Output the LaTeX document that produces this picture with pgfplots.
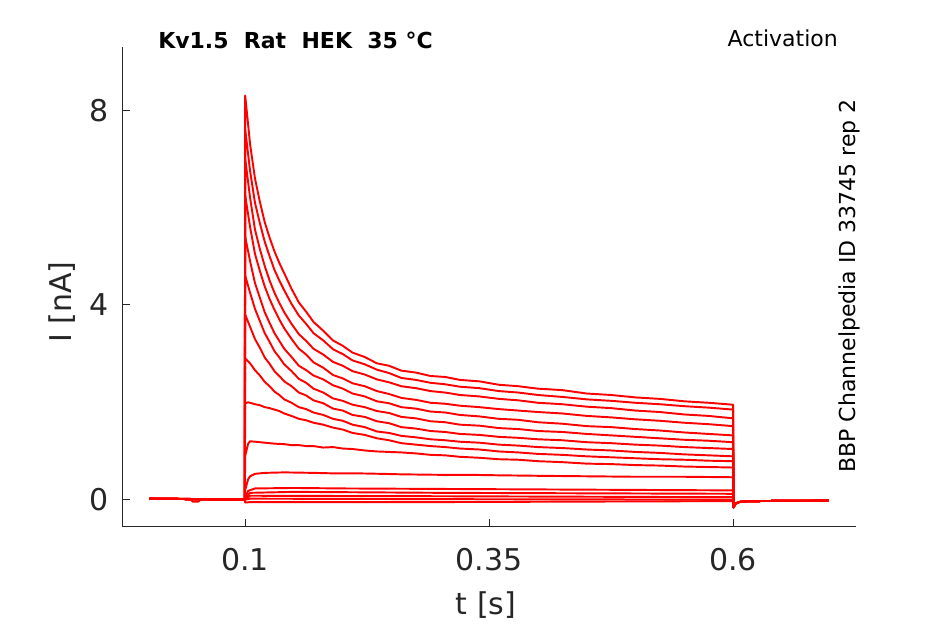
\documentclass[border=0pt]{standalone}
\usepackage{fontspec}
\setmainfont{DejaVu Sans}
\usepackage{pgfplots}
\pgfplotsset{compat=1.18}
\definecolor{mgray}{RGB}{38,38,38}
\pgfplotsset{trace/.style={red, solid, line width=1.45pt, mark=none, line join=round}}
\begin{document}
\begin{tikzpicture}
\path[use as bounding box] (0,0) rectangle (708.75pt,468pt);
\begin{axis}[
  at={(91.7pt,73.0pt)}, anchor=south west,
  scale only axis, width=550.3pt, height=359.8pt,
  xmin=-0.026, xmax=0.726, ymin=-0.555, ymax=9.30,
  axis x line*=bottom, axis y line*=left,
  axis line style={mgray, line width=0.75pt, -},
  tick align=inside, major tick length=5.5pt,
  tick style={mgray, line width=0.75pt},
  xtick={0.1,0.35,0.6}, xticklabels={0.1,0.35,0.6},
  ytick={0,4,8}, yticklabels={0,4,8},
  ticklabel style={font=\fontsize{22.5}{26}\selectfont, text=mgray},
  xticklabel style={yshift=-12.5pt},
  yticklabel style={xshift=-7pt},
  /pgf/number format/assume math mode=true,
  clip=true,
]
% T1
\addplot[trace] coordinates {(0.002,0.02)(0.044,0.02)(0.046,-0.04)(0.052,-0.04)(0.054,0.0)(0.0995,0.0)
(0.1,8.30)(0.105,7.30)(0.11,6.60)(0.115,6.12)(0.12,5.70)(0.125,5.38)(0.13,5.10)(0.135,4.86)(0.14,4.65)(0.1475,4.33)(0.155,4.05)(0.1625,3.86)(0.17,3.65)(0.18,3.47)(0.19,3.27)(0.2,3.16)(0.21,3.02)(0.2225,2.93)(0.235,2.80)(0.2475,2.75)(0.26,2.65)(0.275,2.61)(0.29,2.54)(0.305,2.52)(0.32,2.46)(0.34,2.43)(0.36,2.36)(0.38,2.33)(0.40,2.28)(0.425,2.25)(0.45,2.18)(0.475,2.15)(0.50,2.10)(0.525,2.07)(0.55,2.02)(0.575,1.99)(0.60,1.95)
(0.6005,-0.16)(0.602,-0.09)(0.606,-0.05)(0.615,-0.03)(0.698,-0.02)};
% T2
\addplot[trace] coordinates {(0.002,0.02)(0.0995,0.0)
(0.1,7.60)(0.105,6.75)(0.11,6.10)(0.115,5.68)(0.12,5.30)(0.125,5.00)(0.13,4.72)(0.135,4.50)(0.14,4.30)(0.1475,4.02)(0.155,3.78)(0.1625,3.61)(0.17,3.42)(0.18,3.27)(0.19,3.09)(0.2,2.99)(0.21,2.86)(0.2225,2.78)(0.235,2.67)(0.2475,2.60)(0.26,2.50)(0.275,2.46)(0.29,2.40)(0.305,2.37)(0.32,2.32)(0.34,2.29)(0.36,2.23)(0.38,2.20)(0.40,2.15)(0.425,2.11)(0.45,2.06)(0.475,2.03)(0.50,1.99)(0.525,1.96)(0.55,1.92)(0.575,1.89)(0.60,1.85)
(0.6005,-0.16)(0.602,-0.09)(0.606,-0.05)(0.615,-0.03)(0.698,-0.02)};
% T3
\addplot[trace] coordinates {(0.002,0.02)(0.0995,0.0)
(0.1,7.00)(0.105,6.20)(0.11,5.55)(0.115,5.15)(0.12,4.80)(0.125,4.50)(0.13,4.25)(0.135,4.04)(0.14,3.85)(0.1475,3.61)(0.155,3.40)(0.1625,3.26)(0.17,3.10)(0.18,2.98)(0.19,2.83)(0.2,2.75)(0.21,2.64)(0.2225,2.57)(0.235,2.47)(0.2475,2.41)(0.26,2.33)(0.275,2.29)(0.29,2.23)(0.305,2.20)(0.32,2.15)(0.34,2.12)(0.36,2.07)(0.38,2.04)(0.40,1.99)(0.425,1.96)(0.45,1.91)(0.475,1.88)(0.50,1.83)(0.525,1.80)(0.55,1.75)(0.575,1.72)(0.60,1.67)
(0.6005,-0.16)(0.602,-0.09)(0.606,-0.05)(0.615,-0.03)(0.698,-0.02)};
% T4
\addplot[trace] coordinates {(0.002,0.02)(0.0995,0.0)
(0.1,6.25)(0.105,5.60)(0.11,5.05)(0.115,4.70)(0.12,4.38)(0.125,4.12)(0.13,3.90)(0.135,3.70)(0.14,3.52)(0.1475,3.30)(0.155,3.10)(0.1625,2.98)(0.17,2.82)(0.18,2.71)(0.19,2.56)(0.2,2.49)(0.21,2.39)(0.2225,2.33)(0.235,2.23)(0.2475,2.17)(0.26,2.09)(0.275,2.05)(0.29,1.99)(0.305,1.97)(0.32,1.93)(0.34,1.90)(0.36,1.86)(0.38,1.83)(0.40,1.80)(0.425,1.77)(0.45,1.72)(0.475,1.69)(0.50,1.65)(0.525,1.62)(0.55,1.58)(0.575,1.55)(0.60,1.51)
(0.6005,-0.16)(0.602,-0.09)(0.606,-0.05)(0.615,-0.03)(0.698,-0.02)};
% T5
\addplot[trace] coordinates {(0.002,0.02)(0.0995,0.0)
(0.1,5.40)(0.105,4.90)(0.11,4.45)(0.115,4.15)(0.12,3.85)(0.125,3.63)(0.13,3.42)(0.135,3.26)(0.14,3.10)(0.1475,2.93)(0.155,2.75)(0.1625,2.66)(0.17,2.55)(0.18,2.47)(0.19,2.35)(0.2,2.28)(0.21,2.18)(0.2225,2.12)(0.235,2.02)(0.2475,1.98)(0.26,1.90)(0.275,1.87)(0.29,1.81)(0.305,1.79)(0.32,1.74)(0.34,1.71)(0.36,1.66)(0.38,1.64)(0.40,1.59)(0.425,1.56)(0.45,1.51)(0.475,1.49)(0.50,1.45)(0.525,1.42)(0.55,1.38)(0.575,1.35)(0.60,1.32)
(0.6005,-0.16)(0.602,-0.09)(0.606,-0.05)(0.615,-0.03)(0.698,-0.02)};
% T6
\addplot[trace] coordinates {(0.002,0.02)(0.0995,0.0)
(0.1,4.60)(0.105,4.25)(0.11,3.92)(0.115,3.67)(0.12,3.42)(0.125,3.24)(0.13,3.05)(0.135,2.92)(0.14,2.78)(0.1475,2.64)(0.155,2.48)(0.1625,2.40)(0.17,2.28)(0.18,2.20)(0.19,2.08)(0.2,2.03)(0.21,1.95)(0.2225,1.90)(0.235,1.82)(0.2475,1.78)(0.26,1.70)(0.275,1.67)(0.29,1.61)(0.305,1.59)(0.32,1.54)(0.34,1.52)(0.36,1.47)(0.38,1.45)(0.40,1.41)(0.425,1.39)(0.45,1.35)(0.475,1.32)(0.50,1.29)(0.525,1.26)(0.55,1.23)(0.575,1.21)(0.60,1.18)
(0.6005,-0.16)(0.602,-0.09)(0.606,-0.05)(0.615,-0.03)(0.698,-0.02)};
% T7
\addplot[trace] coordinates {(0.002,0.02)(0.0995,0.0)
(0.1,3.80)(0.105,3.55)(0.11,3.30)(0.115,3.12)(0.12,2.92)(0.125,2.79)(0.13,2.64)(0.135,2.54)(0.14,2.43)(0.1475,2.33)(0.155,2.20)(0.1625,2.14)(0.17,2.04)(0.18,1.98)(0.19,1.87)(0.2,1.83)(0.21,1.74)(0.2225,1.70)(0.235,1.61)(0.2475,1.57)(0.26,1.49)(0.275,1.46)(0.29,1.41)(0.305,1.39)(0.32,1.35)(0.34,1.33)(0.36,1.29)(0.38,1.27)(0.40,1.24)(0.425,1.22)(0.45,1.18)(0.475,1.16)(0.50,1.13)(0.525,1.11)(0.55,1.08)(0.575,1.06)(0.60,1.04)
(0.6005,-0.16)(0.602,-0.09)(0.606,-0.05)(0.615,-0.03)(0.698,-0.02)};
% T8
\addplot[trace] coordinates {(0.002,0.02)(0.0995,0.0)
(0.1,2.90)(0.105,2.80)(0.11,2.66)(0.115,2.55)(0.12,2.42)(0.125,2.33)(0.13,2.22)(0.135,2.15)(0.14,2.06)(0.1475,1.99)(0.155,1.90)(0.1625,1.86)(0.17,1.79)(0.18,1.74)(0.19,1.66)(0.2,1.62)(0.21,1.54)(0.2225,1.49)(0.235,1.40)(0.2475,1.37)(0.26,1.31)(0.275,1.28)(0.29,1.24)(0.305,1.22)(0.32,1.19)(0.34,1.17)(0.36,1.13)(0.38,1.11)(0.40,1.08)(0.425,1.06)(0.45,1.03)(0.475,1.01)(0.50,0.98)(0.525,0.96)(0.55,0.93)(0.575,0.91)(0.60,0.89)
(0.6005,-0.16)(0.602,-0.09)(0.606,-0.05)(0.615,-0.03)(0.698,-0.02)};
% T9
\addplot[trace] coordinates {(0.002,0.02)(0.0995,0.0)
(0.1,1.98)(0.103,2.00)(0.105,1.99)(0.11,1.96)(0.115,1.94)(0.12,1.90)(0.125,1.88)(0.13,1.85)(0.135,1.82)(0.14,1.77)(0.1475,1.72)(0.155,1.66)(0.1625,1.63)(0.17,1.58)(0.18,1.54)(0.19,1.48)(0.2,1.44)(0.21,1.37)(0.2225,1.33)(0.235,1.26)(0.2475,1.22)(0.26,1.16)(0.275,1.13)(0.29,1.10)(0.305,1.08)(0.32,1.05)(0.34,1.03)(0.36,0.99)(0.38,0.97)(0.40,0.94)(0.425,0.92)(0.45,0.89)(0.475,0.87)(0.50,0.85)(0.525,0.83)(0.55,0.82)(0.575,0.80)(0.60,0.79)
(0.6005,-0.16)(0.602,-0.09)(0.606,-0.05)(0.615,-0.03)(0.698,-0.02)};
% T10
\addplot[trace] coordinates {(0.002,0.02)(0.0995,0.0)
(0.1,0.90)(0.103,1.15)(0.105,1.20)(0.11,1.19)(0.12,1.17)(0.13,1.15)(0.14,1.14)(0.1475,1.12)(0.155,1.12)(0.1625,1.10)(0.17,1.10)(0.18,1.07)(0.19,1.08)(0.2,1.05)(0.21,1.04)(0.2225,1.01)(0.235,0.99)(0.2475,0.98)(0.26,0.97)(0.275,0.95)(0.29,0.92)(0.305,0.91)(0.32,0.88)(0.34,0.86)(0.36,0.83)(0.38,0.82)(0.40,0.79)(0.425,0.77)(0.45,0.74)(0.475,0.73)(0.50,0.71)(0.525,0.70)(0.55,0.68)(0.575,0.67)(0.60,0.66)
(0.6005,-0.16)(0.602,-0.09)(0.606,-0.05)(0.615,-0.03)(0.698,-0.02)};
% T11
\addplot[trace] coordinates {(0.002,0.02)(0.0995,0.0)
(0.1,0.20)(0.103,0.42)(0.105,0.48)(0.11,0.53)(0.12,0.55)(0.14,0.56)(0.17,0.55)(0.19,0.54)(0.215,0.54)(0.24,0.53)(0.26,0.52)(0.30,0.51)(0.33,0.51)(0.36,0.50)(0.40,0.49)(0.45,0.48)(0.50,0.47)(0.55,0.47)(0.60,0.46)
(0.6005,-0.16)(0.602,-0.09)(0.606,-0.05)(0.615,-0.03)(0.698,-0.02)};
% T12
\addplot[trace] coordinates {(0.002,0.02)(0.0995,0.0)
(0.1,0.05)(0.103,0.18)(0.11,0.23)(0.15,0.24)(0.20,0.23)(0.30,0.22)(0.40,0.21)(0.50,0.20)(0.60,0.19)
(0.6005,-0.16)(0.602,-0.09)(0.606,-0.05)(0.615,-0.03)(0.698,-0.02)};
% T13
\addplot[trace] coordinates {(0.002,0.02)(0.0995,0.0)
(0.1,0.03)(0.105,0.14)(0.15,0.16)(0.30,0.14)(0.45,0.13)(0.60,0.12)
(0.6005,-0.16)(0.602,-0.09)(0.606,-0.05)(0.615,-0.03)(0.698,-0.02)};
% T14
\addplot[trace] coordinates {(0.002,0.02)(0.0995,0.0)
(0.1,0.0)(0.105,0.08)(0.30,0.07)(0.60,0.05)
(0.6005,-0.16)(0.602,-0.09)(0.606,-0.05)(0.615,-0.03)(0.698,-0.02)};
% T15
\addplot[trace] coordinates {(0.002,0.02)(0.0995,0.0)
(0.1,0.0)(0.105,0.02)(0.30,0.01)(0.60,0.0)
(0.6005,-0.16)(0.602,-0.09)(0.606,-0.05)(0.615,-0.03)(0.698,-0.02)};
% T16
\addplot[trace] coordinates {(0.002,0.02)(0.0995,0.0)
(0.1,-0.06)(0.105,-0.05)(0.30,-0.05)(0.60,-0.03)
(0.6005,-0.16)(0.602,-0.09)(0.606,-0.05)(0.615,-0.03)(0.698,-0.02)};
\end{axis}
% labels
\node[text=mgray, font=\fontsize{22.5}{26}\selectfont] at (364.5pt,14.5pt) {t [s]};
\node[text=mgray, font=\fontsize{22.5}{26}\selectfont, rotate=90] at (46.5pt,241.5pt) {I [nA]};
\node[anchor=west, font=\fontsize{16.5}{19}\selectfont\bfseries, inner sep=0pt] at (118.5pt,438pt) {Kv1.5~~Rat~~HEK~~35~°C};
\node[anchor=east, font=\fontsize{16.5}{19}\selectfont, inner sep=0pt] at (628.5pt,439.5pt) {Activation};
\node[rotate=90, font=\fontsize{16.5}{19}\selectfont, inner sep=0pt] at (636.75pt,253.5pt) {BBP Channelpedia ID 33745 rep 2};
\end{tikzpicture}
\end{document}
